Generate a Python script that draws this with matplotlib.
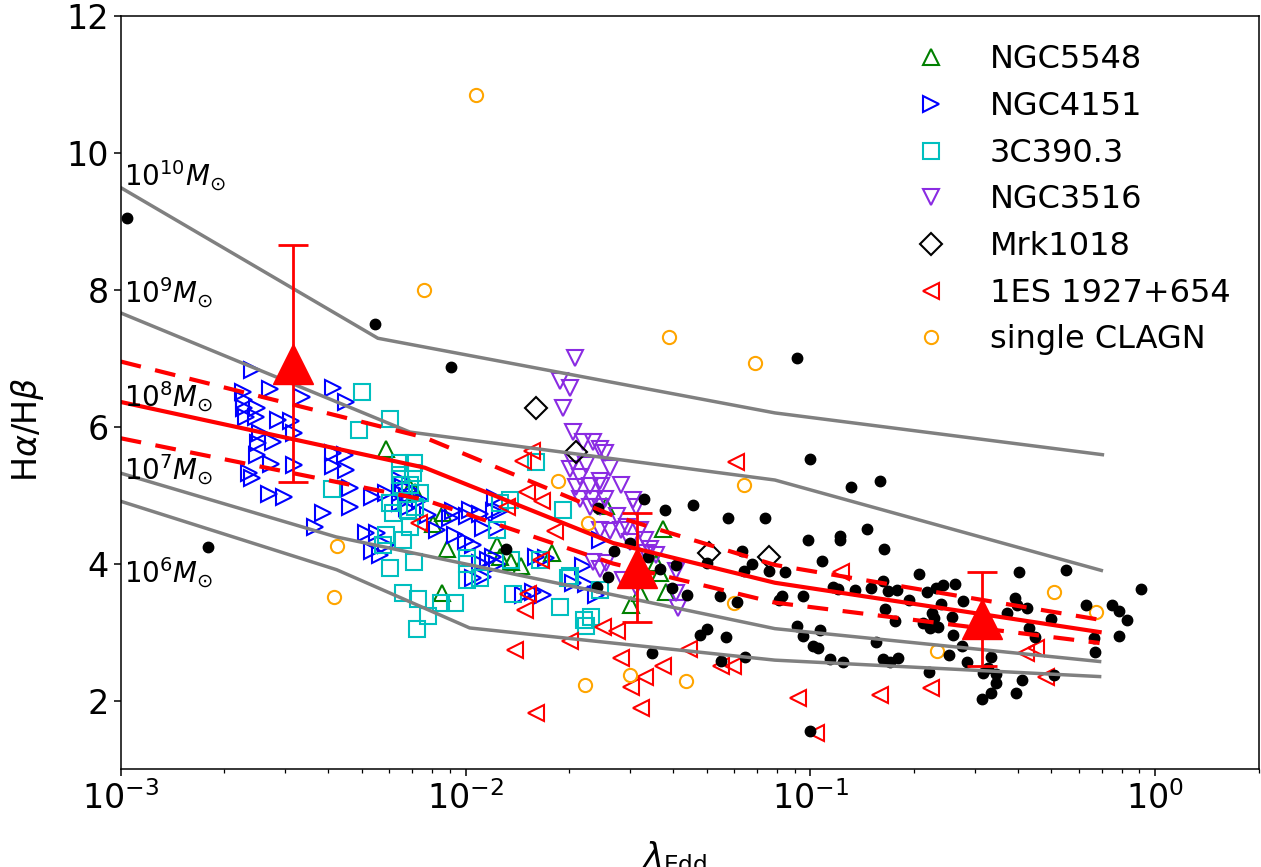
import numpy as np
import matplotlib
matplotlib.use("Agg")
import matplotlib.pyplot as plt

# ---------------- data ----------------
# black dots (no legend entry)
bk_x = [0.00104, 0.00179, 0.00546, 0.00906, 0.0912, 0.0995, 0.131, 0.159, 0.0379, 0.0458,
        0.0577, 0.0738, 0.146, 0.0987, 0.122, 0.122, 0.163, 0.0635, 0.108, 0.050,
        0.0678, 0.0641, 0.0757, 0.0847, 0.207, 0.403, 0.552, 0.908, 0.0366, 0.0409,
        0.0396, 0.0438, 0.0548, 0.0614, 0.0830, 0.0811, 0.0955, 0.116, 0.120, 0.135,
        0.150, 0.162, 0.168, 0.178, 0.193, 0.165, 0.218, 0.232, 0.242, 0.262,
        0.277, 0.240, 0.226, 0.228, 0.257, 0.176, 0.212, 0.222, 0.234, 0.260,
        0.393, 0.398, 0.426, 0.372, 0.498, 0.431, 0.447, 0.632, 0.749, 0.784,
        0.831, 0.664, 0.667, 0.784, 0.0478, 0.0500, 0.0568, 0.0916, 0.0954, 0.107,
        0.102, 0.105, 0.155, 0.275, 0.252, 0.285, 0.335, 0.0348, 0.0552, 0.0645,
        0.114, 0.124, 0.162, 0.170, 0.180, 0.221, 0.316, 0.327, 0.346, 0.346,
        0.410, 0.510, 0.333, 0.315, 0.396, 0.100, 0.0329, 0.0242, 0.0299, 0.0269,
        0.0338, 0.0259, 0.0240, 0.0131]
bk_y = [9.05, 4.24, 7.50, 6.87, 7.00, 5.52, 5.12, 5.20, 4.78, 4.86,
        4.66, 4.66, 4.51, 4.34, 4.40, 4.35, 4.21, 4.19, 4.04, 4.01,
        4.00, 3.89, 3.89, 3.87, 3.85, 3.88, 3.91, 3.63, 3.92, 3.98,
        3.65, 3.54, 3.53, 3.44, 3.53, 3.47, 3.53, 3.66, 3.63, 3.61,
        3.65, 3.74, 3.60, 3.61, 3.47, 3.33, 3.58, 3.65, 3.69, 3.70,
        3.45, 3.41, 3.28, 3.20, 3.22, 3.16, 3.13, 3.06, 3.08, 2.95,
        3.50, 3.40, 3.35, 3.28, 3.19, 3.06, 2.93, 3.39, 3.40, 3.31,
        3.18, 2.91, 2.71, 2.94, 2.95, 3.04, 2.93, 3.09, 2.94, 3.03,
        2.80, 2.77, 2.85, 2.79, 2.67, 2.56, 2.64, 2.69, 2.58, 2.64,
        2.60, 2.56, 2.61, 2.57, 2.62, 2.41, 2.40, 2.47, 2.39, 2.25,
        2.30, 2.37, 2.11, 2.02, 2.11, 1.55, 4.94, 4.81, 4.30, 4.19,
        4.10, 3.80, 3.66, 4.22]

# NGC5548
n5548_x = [0.00590, 0.00690, 0.00713, 0.00805, 0.00861, 0.00881, 0.00852, 0.0123, 0.01257, 0.01359,
           0.01453, 0.01776, 0.02563, 0.0374, 0.03578, 0.03658, 0.03825, 0.03201, 0.03028]
n5548_y = [5.67, 5.10, 5.05, 4.58, 4.74, 4.22, 3.57, 4.27, 4.10, 4.03,
           3.96, 4.15, 4.84, 4.51, 4.01, 3.86, 3.59, 3.57, 3.40]

# NGC4151
n4151_x = [0.00240, 0.00227, 0.00271, 0.00335, 0.00413, 0.00451, 0.00228, 0.00228, 0.00248, 0.00231,
           0.00247, 0.00286, 0.00312, 0.00318, 0.00253, 0.00251, 0.00277, 0.00248, 0.00273, 0.00318,
           0.00236, 0.00240, 0.00413, 0.00447, 0.00413, 0.00450, 0.00462, 0.00269, 0.00297, 0.00386,
           0.00462, 0.00366, 0.00535, 0.00516, 0.00552, 0.00534, 0.00564, 0.00590, 0.00590, 0.00645,
           0.00675, 0.00645, 0.00690, 0.00737, 0.00659, 0.00645, 0.00675, 0.00921, 0.01029, 0.00900,
           0.01007, 0.01100, 0.00931, 0.01003, 0.01052, 0.01124, 0.01230, 0.01216, 0.01208, 0.01257,
           0.01163, 0.01230, 0.01100, 0.01124, 0.01202, 0.01052, 0.01606, 0.01717, 0.01469, 0.01679,
           0.02193, 0.02243, 0.02051, 0.02398, 0.02451, 0.01570, 0.00777, 0.00826]
n4151_y = [6.83, 6.51, 6.55, 6.43, 6.57, 6.36, 6.39, 6.27, 6.27, 6.14,
           6.14, 6.10, 6.08, 5.90, 5.90, 5.76, 5.77, 5.59, 5.46, 5.44,
           5.32, 5.25, 5.61, 5.59, 5.43, 5.37, 5.11, 5.02, 4.97, 4.74,
           4.83, 4.54, 4.97, 4.44, 4.44, 4.18, 4.13, 4.27, 5.03, 5.03,
           4.98, 5.22, 5.08, 4.93, 5.12, 4.88, 4.81, 4.77, 4.78, 4.67,
           4.69, 4.73, 4.42, 4.33, 4.27, 4.52, 4.52, 4.96, 4.77, 4.77,
           4.05, 4.00, 4.01, 3.81, 4.10, 3.79, 4.10, 4.08, 3.54, 3.54,
           3.97, 3.70, 3.71, 3.54, 4.35, 3.59, 4.71, 4.49]

# 3C390.3
c390_x = [0.00500, 0.00603, 0.00492, 0.00409, 0.00645, 0.00708, 0.00645, 0.00705, 0.00690, 0.00737,
          0.00652, 0.00603, 0.00617, 0.00680, 0.00713, 0.00690, 0.00590, 0.00659, 0.00577, 0.00603,
          0.00708, 0.00659, 0.00727, 0.00779, 0.00722, 0.00848, 0.00931, 0.01007, 0.01007, 0.01100,
          0.01359, 0.01642, 0.01374, 0.01876, 0.02006, 0.02232, 0.02308, 0.01606, 0.01345, 0.01257,
          0.01230, 0.01007, 0.01918, 0.01984, 0.02451, 0.02202]
c390_y = [6.51, 6.11, 5.95, 5.09, 5.47, 5.47, 5.30, 5.32, 5.15, 5.03,
          5.15, 4.89, 4.74, 4.78, 4.83, 4.54, 4.42, 4.35, 4.27, 3.94,
          4.03, 3.57, 3.48, 3.23, 3.04, 3.42, 3.43, 3.76, 4.00, 3.79,
          4.05, 4.05, 3.56, 3.37, 3.82, 3.09, 3.22, 5.48, 4.93, 4.88,
          4.49, 4.08, 4.78, 3.79, 3.62, 3.18]

# NGC3516
n3516_x = [0.02084, 0.01876, 0.02006, 0.01918, 0.02051, 0.02193, 0.02344, 0.02451, 0.02534, 0.02051,
           0.02243, 0.02620, 0.02006, 0.02145, 0.02451, 0.02478, 0.02833, 0.02098, 0.02293, 0.02145,
           0.02323, 0.02534, 0.03060, 0.02293, 0.02451, 0.02741, 0.02930, 0.03131, 0.03201, 0.02451,
           0.02620, 0.02833, 0.02994, 0.03309, 0.03421, 0.03346, 0.02344, 0.02563, 0.02451, 0.02863,
           0.03131, 0.03578, 0.04089, 0.04089, 0.04132]
n3516_y = [7.00, 6.66, 6.56, 6.27, 5.92, 5.78, 5.78, 5.68, 5.61, 5.49,
           5.44, 5.40, 5.38, 5.27, 5.21, 5.13, 5.15, 5.12, 5.13, 4.95,
           4.94, 4.94, 4.93, 4.83, 4.83, 4.69, 4.54, 4.83, 4.49, 4.49,
           4.47, 4.49, 4.32, 4.35, 4.22, 4.15, 4.03, 4.01, 3.92, 3.76,
           3.66, 4.13, 3.89, 3.57, 3.35]

# Mrk1018
mrk_x = [0.01599, 0.02098, 0.05073, 0.07586]
mrk_y = [6.27, 5.63, 4.15, 4.10]

# 1ES 1927+654
es_x = [0.01469, 0.01554, 0.01503, 0.01670, 0.01315, 0.01815, 0.00732, 0.01660, 0.01516, 0.01486,
        0.01390, 0.01606, 0.02006, 0.02505, 0.02754, 0.02833, 0.03740, 0.03309, 0.03028, 0.03237,
        0.04440, 0.05521, 0.05966, 0.06105, 0.1230, 0.0921, 0.1588, 0.2243, 0.1041, 0.4228,
        0.4519, 0.4832]
es_y = [5.50, 5.64, 5.05, 4.91, 4.83, 4.48, 4.59, 4.05, 3.56, 3.32,
        2.74, 1.82, 2.87, 3.07, 3.01, 2.62, 2.51, 2.35, 2.20, 1.89,
        2.75, 2.50, 2.50, 5.49, 3.88, 2.04, 2.08, 2.18, 1.52, 2.69,
        2.77, 2.35]

# single CLAGN
sc_x = [0.01071, 0.00757, 0.03884, 0.06896, 0.06421, 0.01855, 0.02267, 0.00424, 0.00416, 0.02228,
        0.02994, 0.04351, 0.06005, 0.2328, 0.5104, 0.6714]
sc_y = [10.84, 8.00, 7.31, 6.93, 5.15, 5.20, 4.59, 4.26, 3.51, 2.22,
        2.37, 2.28, 3.42, 2.72, 3.59, 3.30]

# grey model tracks
g1_x = [0.001, 0.00557, 0.0789, 0.703]
g1_y = [9.49, 7.29, 6.20, 5.59]
g2_x = [0.001, 0.0069, 0.0789, 0.698]
g2_y = [7.66, 5.92, 5.22, 3.90]
g3_x = [0.001, 0.00421, 0.0789, 0.690]
g3_y = [5.32, 4.39, 3.05, 2.57]
g4_x = [0.001, 0.00423, 0.01028, 0.0789, 0.690]
g4_y = [4.91, 3.91, 3.06, 2.59, 2.35]

# red mean relation and its spread
fit_x = [0.001, 0.00762, 0.0268, 0.0789, 0.690]
fit_y = [6.36, 5.40, 4.30, 3.72, 3.00]
fit_up = [6.95, 5.84, 4.70, 3.98, 3.18]
fit_lo = [5.83, 4.93, 4.00, 3.43, 2.84]

# binned means
bin_x = [0.00315, 0.0314, 0.315]
bin_y = [6.92, 3.94, 3.19]
bin_err = [1.73, 0.80, 0.68]

mass_labels = [r'$10^{10}M_{\odot}$', r'$10^{9}M_{\odot}$', r'$10^{8}M_{\odot}$',
               r'$10^{7}M_{\odot}$', r'$10^{6}M_{\odot}$']
mass_label_y = [9.67, 7.95, 6.43, 5.37, 3.86]

# ---------------- plot ----------------
fig = plt.figure(figsize=(12.61, 8.67), dpi=100)
ax = fig.add_axes([0.0957, 0.1130, 0.9027, 0.8689])

mew = 1.5
ax.plot(n5548_x, n5548_y, '^', ls='none', mfc='none', mec='green', ms=12, mew=mew, label='NGC5548')
ax.plot(n4151_x, n4151_y, '>', ls='none', mfc='none', mec='blue', ms=12, mew=mew, label='NGC4151')
ax.plot(c390_x, c390_y, 's', ls='none', mfc='none', mec='c', ms=12, mew=mew, label='3C390.3')
ax.plot(n3516_x, n3516_y, 'v', ls='none', mfc='none', mec='blueviolet', ms=12, mew=mew, label='NGC3516')
ax.plot(mrk_x, mrk_y, 'D', ls='none', mfc='none', mec='k', ms=11, mew=mew, label='Mrk1018')
ax.plot(es_x, es_y, '<', ls='none', mfc='none', mec='r', ms=12, mew=mew, label='1ES 1927+654')
ax.plot(sc_x, sc_y, 'o', ls='none', mfc='none', mec='orange', ms=9.5, mew=mew, label='single CLAGN')
ax.plot(bk_x, bk_y, 'o', ls='none', color='k', ms=7.5)

for gx, gy in [(g1_x, g1_y), (g2_x, g2_y), (g3_x, g3_y), (g4_x, g4_y)]:
    ax.plot(gx, gy, '-', color='gray', lw=2.5)

ax.plot(fit_x, fit_y, '-', color='r', lw=3)
ax.plot(fit_x, fit_up, '--', color='r', lw=3, dashes=(5, 3.5))
ax.plot(fit_x, fit_lo, '--', color='r', lw=3, dashes=(5, 3.5))

ax.errorbar(bin_x, bin_y, yerr=bin_err, fmt='^', color='r', ms=29,
            elinewidth=2, capsize=11, capthick=2, zorder=5)

for lab, ly in zip(mass_labels, mass_label_y):
    ax.text(1.02e-3, ly, lab, fontsize=20, ha='left', va='center')

ax.set_xscale('log')
ax.set_xlim(1e-3, 2)
ax.set_ylim(1, 12)
ax.set_yticks([2, 4, 6, 8, 10, 12])
ax.tick_params(axis='both', which='major', labelsize=24, length=5, width=1.1)
ax.tick_params(axis='both', which='minor', length=3, width=0.9)
for sp in ax.spines.values():
    sp.set_linewidth(1.1)

ax.set_ylabel(r'H$\alpha$/H$\beta$', fontsize=24)
ax.yaxis.set_label_coords(-0.066, 0.451)
ax.set_xlabel(r'$\lambda_{\rm Edd}$', fontsize=24)
ax.xaxis.set_label_coords(0.487, -0.093)
ax.xaxis.label.set_va('top')

ax.legend(loc='upper right', frameon=False, fontsize=23, labelspacing=0.49,
          handletextpad=0.85)

fig.savefig('out.png', dpi=100)
